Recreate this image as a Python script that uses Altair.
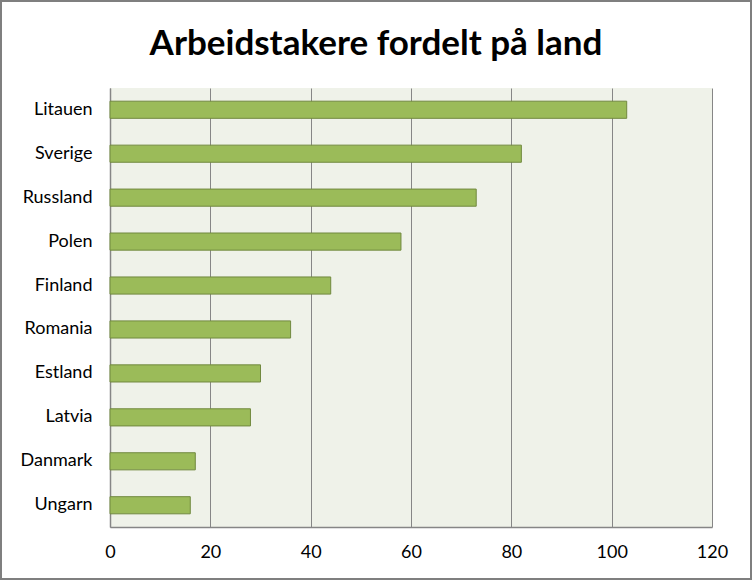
import altair as alt
import pandas as pd

countries = ["Litauen", "Sverige", "Russland", "Polen", "Finland",
             "Romania", "Estland", "Latvia", "Danmark", "Ungarn"]
values = [103, 82, 73, 58, 44, 36, 30, 28, 17, 16]
x_ticks = [0, 20, 40, 60, 80, 100, 120]
title_text = "Arbeidstakere fordelt på land"

df = pd.DataFrame({"land": countries, "antall": values})

FONT = "Lato"
GRAY = "#868686"

W, H = 602, 439
PL, PT, PR, PB = 110, 88, 40, 53

bars = alt.Chart(df).mark_bar(
    color="#9BBB59", stroke="#71893F", strokeWidth=1
).encode(
    x=alt.X("antall:Q",
            scale=alt.Scale(domain=[0, 120], nice=False),
            axis=alt.Axis(values=x_ticks, title=None, grid=True, gridColor=GRAY,
                          gridOpacity=1, gridWidth=1, ticks=False, domain=True,
                          domainColor=GRAY, domainWidth=1.5, labelFont=FONT,
                          labelFontSize=18, labelColor="black", labelPadding=16,
                          labelFlush=False)),
    y=alt.Y("land:N", sort=countries,
            scale=alt.Scale(paddingInner=0.61, paddingOuter=0.3),
            axis=alt.Axis(title=None, ticks=False, domain=True, domainColor=GRAY,
                          domainWidth=1.5, labelFont=FONT, labelFontSize=18,
                          labelColor="black", labelPadding=18, grid=False)),
)

frame = alt.Chart(pd.DataFrame({"a": [0]})).mark_rect(
    fill=None, stroke="#7F7F7F", strokeWidth=2
).encode(
    x=alt.value(-PL + 1), x2=alt.value(W + PR - 1),
    y=alt.value(-PT + 1), y2=alt.value(H + PB - 1),
)

title = alt.Chart(pd.DataFrame({"t": [title_text]})).mark_text(
    font=FONT, fontSize=35, fontWeight="bold", color="black",
    align="center", baseline="alphabetic"
).encode(
    text="t:N", x=alt.value(376 - PL), y=alt.value(55 - PT)
)

chart = alt.layer(bars, frame, title).properties(
    width=W, height=H,
    autosize=alt.AutoSizeParams(type="none"),
    padding={"left": PL, "top": PT, "right": PR, "bottom": PB},
).configure(
    background="white",
    view=alt.ViewConfig(fill="#EFF2E9", stroke=None),
)

chart.save("out.html", embed_options={"renderer": "svg", "actions": False})
